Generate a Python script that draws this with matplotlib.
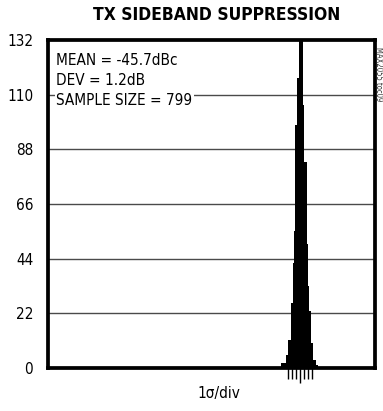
import matplotlib
matplotlib.use("Agg")
import matplotlib.pyplot as plt

plt.rcParams['font.family'] = ['DejaVu Sans']
plt.rcParams['font.stretch'] = 'condensed'

# histogram, x in units of sigma relative to the mean (-45.7dBc, 1 sigma = 1.2dB)
bin_edges = [-4.75, -3.5, -3.0, -2.25, -1.75, -1.5, -1.25, -0.75, -0.25,
             0.75, 1.0, 1.75, 2.0, 2.25, 2.75, 3.25, 4.0, 4.5]
counts = [2, 5, 11, 26, 42, 55, 98, 117, 140, 106, 83, 50, 33, 23, 10, 3, 1]
sigma_ticks = [-3, -2, -1, 0, 1, 2, 3]
y_ticks = [0, 22, 44, 66, 88, 110, 132]
stats_text = ["MEAN = -45.7dBc", "DEV = 1.2dB", "SAMPLE SIZE = 799"]

fig = plt.figure(figsize=(3.83, 4.11), dpi=100)
ax = fig.add_axes([0.1266, 0.1058, 0.8524, 0.7957])

ax.set_xlim(-62.5, 18.75)
ax.set_ylim(0, 132)

for yv in y_ticks[1:-1]:
	ax.axhline(yv, color="#4a4a4a", lw=1.0, zorder=1)

ax.stairs(counts, bin_edges, fill=True, color="black", zorder=3)

# sigma ticks below the axis, the centre one longer
ax.set_xticks(sigma_ticks)
ax.set_xticklabels([])
ax.tick_params(axis="x", direction="out", length=8, width=1, color="black")
ax.get_xticklines()[6].set_markersize(11)

ax.set_yticks(y_ticks)
ax.set_yticklabels([str(v) for v in y_ticks], fontsize=11)
ax.tick_params(axis="y", length=0, pad=11)

for s in ax.spines.values():
	s.set_linewidth(2.7)
	s.set_zorder(5)

# stats box covering the grid
ax.text(0.024, 0.963, "\n".join(stats_text), transform=ax.transAxes,
	fontsize=11, va="top", ha="left", linespacing=1.42,
	bbox=dict(facecolor="white", edgecolor="none", pad=1.0), zorder=4)

fig.text(0.566, 0.963, "TX SIDEBAND SUPPRESSION", ha="center", va="center",
	fontsize=12.5, fontweight="bold")
fig.text(0.572, 0.043, "1\u03c3/div", ha="center", va="center", fontsize=11)
fig.text(0.988, 0.82, "MAX2055 toc09", ha="center", va="center", fontsize=5.5,
	rotation=-90, color="#333333")

fig.savefig("out.png", dpi=100)
